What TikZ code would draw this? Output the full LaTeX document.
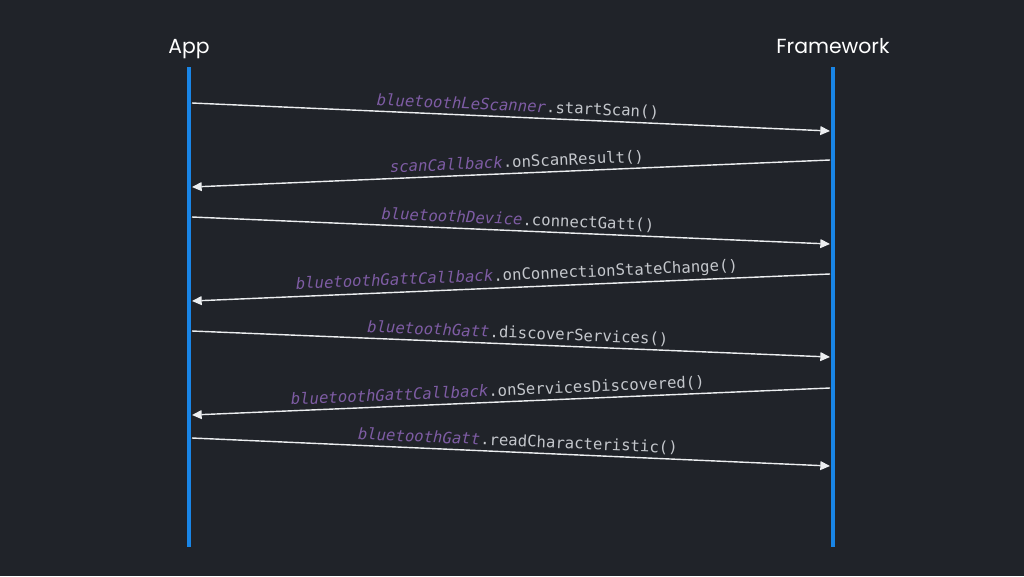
\documentclass[tikz,border=0pt]{standalone}
\usepackage{fontspec}
\setmainfont{Poppins}
\setmonofont{DejaVu Sans Mono}
\usetikzlibrary{arrows.meta}
\definecolor{slidebg}{RGB}{32,35,41}
\definecolor{lifeblue}{RGB}{25,133,230}
\definecolor{callpurple}{RGB}{126,92,164}
\definecolor{calltext}{RGB}{196,199,204}
\definecolor{msgline}{RGB}{236,238,240}
\newcommand{\callname}[2]{\textcolor{callpurple}{\itshape #1}.#2}

\begin{document}
\begin{tikzpicture}[x=0.02cm,y=-0.02cm,
        title/.style={text=white,font=\fontsize{11.6}{13}\selectfont,inner sep=0pt,anchor=base},
        lifeline/.style={draw=lifeblue,line width=2.8pt},
        msg/.style={draw=msgline,line width=0.8pt,-{Triangle[length=5.5pt,width=5pt]}},
        lbl/.style={sloped,above,inner sep=1.8pt,text=calltext,font=\ttfamily\fontsize{8.9}{10}\selectfont}]
        \fill[slidebg] (0,0) rectangle (1024,576);
        \useasboundingbox (0,0) rectangle (1024,576);
        \node[title] (app) at (189,53) {App};
        \node[title] (framework) at (833,53) {Framework};
        % lifelines
        \coordinate (appTop) at (189,67);
        \coordinate (appBot) at (189,547);
        \coordinate (fwTop) at (833,67);
        \coordinate (fwBot) at (833,547);
        \draw[lifeline] (appTop) -- (appBot);
        \draw[lifeline] (fwTop) -- (fwBot);
        % message end points
        \coordinate (a1) at (192,103); \coordinate (f1) at (830,131);
        \coordinate (f2) at (830,160); \coordinate (a2) at (192,187);
        \coordinate (a3) at (192,217); \coordinate (f3) at (830,244);
        \coordinate (f4) at (830,274); \coordinate (a4) at (192,301);
        \coordinate (a5) at (192,331); \coordinate (f5) at (830,357);
        \coordinate (f6) at (830,388); \coordinate (a6) at (192,415);
        \coordinate (a7) at (192,438); \coordinate (f7) at (830,466);
        \draw[msg] (a1) -- node[lbl,pos=0.51] {\callname{bluetoothLeScanner}{startScan()}} (f1);
        \draw[msg] (f2) -- node[lbl,pos=0.49] {\callname{scanCallback}{onScanResult()}} (a2);
        \draw[msg] (a3) -- node[lbl,pos=0.51] {\callname{bluetoothDevice}{connectGatt()}} (f3);
        \draw[msg] (f4) -- node[lbl,pos=0.49] {\callname{bluetoothGattCallback}{onConnectionStateChange()}} (a4);
        \draw[msg] (a5) -- node[lbl,pos=0.51] {\callname{bluetoothGatt}{discoverServices()}} (f5);
        \draw[msg] (f6) -- node[lbl,pos=0.52] {\callname{bluetoothGattCallback}{onServicesDiscovered()}} (a6);
        \draw[msg] (a7) -- node[lbl,pos=0.51] {\callname{bluetoothGatt}{readCharacteristic()}} (f7);
\end{tikzpicture}
\end{document}
